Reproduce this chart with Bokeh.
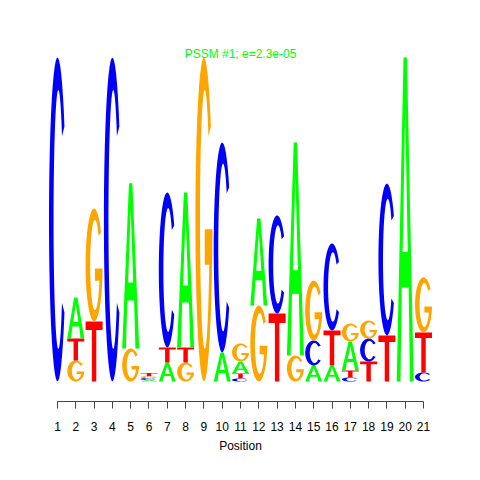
import numpy as np
from bokeh.plotting import figure
from bokeh.models import Range1d, Label, FixedTicker
from bokeh.embed import file_html
from bokeh.resources import INLINE

# ---- data (information content in bits) ----
positions = list(range(1, 22))
A_bits = [0, 0.253, 0, 0, 1.019, 0.009, 0.117, 0.957, 0, 0.179, 0.074, 0.537, 0, 1.315, 0.099, 0.099, 0.179, 0, 0, 2.0, 0]
C_bits = [2.0, 0, 0, 2.0, 0, 0.012, 0.957, 0, 0, 1.296, 0.019, 0, 0.605, 0, 0.154, 0.537, 0.025, 0.142, 0.938, 0, 0.056]
G_bits = [0, 0.130, 0.698, 0, 0.204, 0.012, 0, 0.117, 2.0, 0, 0.111, 0.469, 0, 0.160, 0.370, 0, 0.111, 0.111, 0, 0, 0.340]
T_bits = [0, 0.136, 0.370, 0, 0, 0.019, 0.093, 0.093, 0, 0, 0.031, 0, 0.420, 0, 0, 0.216, 0.043, 0.123, 0.284, 0, 0.247]
# stacking order (bottom to top) of each column
stack_order = ["C", "GTA", "TG", "C", "GA", "ACGT", "ATC", "GTA", "G", "AC", "CTAG", "GA", "TC",
               "GA", "ACG", "ATC", "CTAG", "TCG", "TC", "A", "CTG"]
title_text = "PSSM #1; e=2.3e-05"
x_label = "Position"

colors = {"A": "#00FF00", "C": "#0000FF", "G": "#FFA500", "T": "#FF0000"}
bits = {"A": A_bits, "C": C_bits, "G": G_bits, "T": T_bits}


# ---- letter outlines in a unit box ----
def arc(cx, cy, rx, ry, t0, t1, n=40):
    t = np.radians(np.linspace(t0, t1, n))
    return list(cx + rx * np.cos(t)), list(cy + ry * np.sin(t))


def letter_T():
    xs = [0, 1, 1, 0.63, 0.63, 0.37, 0.37, 0]
    ys = [1, 1, 0.86, 0.86, 0, 0, 0.86, 0.86]
    return [(xs, ys)]


def letter_A():
    xs = [0, 0.22, 0.3, 0.7, 0.78, 1, 0.6, 0.4]
    ys = [0, 0, 0.29, 0.29, 0, 0, 1, 1]
    hx = [0.35, 0.65, 0.5]
    hy = [0.40, 0.40, 0.84]
    return [(xs, ys), (hx, hy)]


def letter_C():
    ox, oy = arc(0.5, 0.5, 0.5, 0.5, 35, 325)
    ix, iy = arc(0.55, 0.5, 0.28, 0.40, 320, 40)
    return [(ox + ix, oy + iy)]


def letter_G():
    ox, oy = arc(0.5, 0.5, 0.5, 0.5, 35, 355)
    t_bar = np.degrees(np.arcsin((0.36 - 0.5) / 0.40))  # negative
    ix, iy = arc(0.55, 0.5, 0.28, 0.40, 360 + t_bar, 40)
    xs = ox + [1.0, 1.0, 0.55, 0.55, ix[0]] + ix
    ys = oy + [oy[-1], 0.47, 0.47, 0.36, 0.36] + iy
    return [(xs, ys)]


templates = {"A": letter_A(), "C": letter_C(), "G": letter_G(), "T": letter_T()}

letter_width = 0.93
glyph_xs, glyph_ys, glyph_colors = [], [], []
for i, pos in enumerate(positions):
    base = 0.0
    for letter in stack_order[i]:
        h = bits[letter][i]
        if h <= 0:
            continue
        rings_x, rings_y = [], []
        for (ux, uy) in templates[letter]:
            rings_x.append([pos - letter_width / 2 + u * letter_width for u in ux])
            rings_y.append([base + v * h for v in uy])
        glyph_xs.append([rings_x])
        glyph_ys.append([rings_y])
        glyph_colors.append(colors[letter])
        base += h

px_per_bit = 162.0
p = figure(frame_width=388, frame_height=361,
           min_border_left=46, min_border_right=30, min_border_top=40, min_border_bottom=63,
           x_range=Range1d(0.4, 21.6),
           y_range=Range1d(-20 / px_per_bit, 341 / px_per_bit),
           output_backend="svg", toolbar_location=None)
p.multi_polygons(xs=glyph_xs, ys=glyph_ys, fill_color=glyph_colors, line_color=None)

p.yaxis.visible = False
p.xgrid.visible = False
p.ygrid.visible = False
p.outline_line_color = None

ax = p.xaxis[0]
ax.ticker = FixedTicker(ticks=positions)
ax.bounds = (1, 21)
ax.axis_line_color = "#444444"
ax.major_tick_line_color = "#444444"
ax.major_tick_out = 7
ax.major_tick_in = 0
ax.minor_tick_line_color = None
ax.major_label_text_font = "Liberation Sans"
ax.major_label_text_font_size = "12px"
ax.major_label_text_color = "black"
ax.major_label_standoff = 13
ax.axis_label = x_label
ax.axis_label_text_font = "Liberation Sans"
ax.axis_label_text_font_size = "12px"
ax.axis_label_text_font_style = "normal"
ax.axis_label_text_color = "black"
ax.axis_label_standoff = 5

p.add_layout(Label(x=11, y=(381 - 53) / px_per_bit, text=title_text, text_align="center",
                   text_baseline="middle", text_font="Liberation Sans", text_font_size="12px",
                   text_color="#00FF00"))

open("out.html", "w").write(file_html(p, INLINE))
